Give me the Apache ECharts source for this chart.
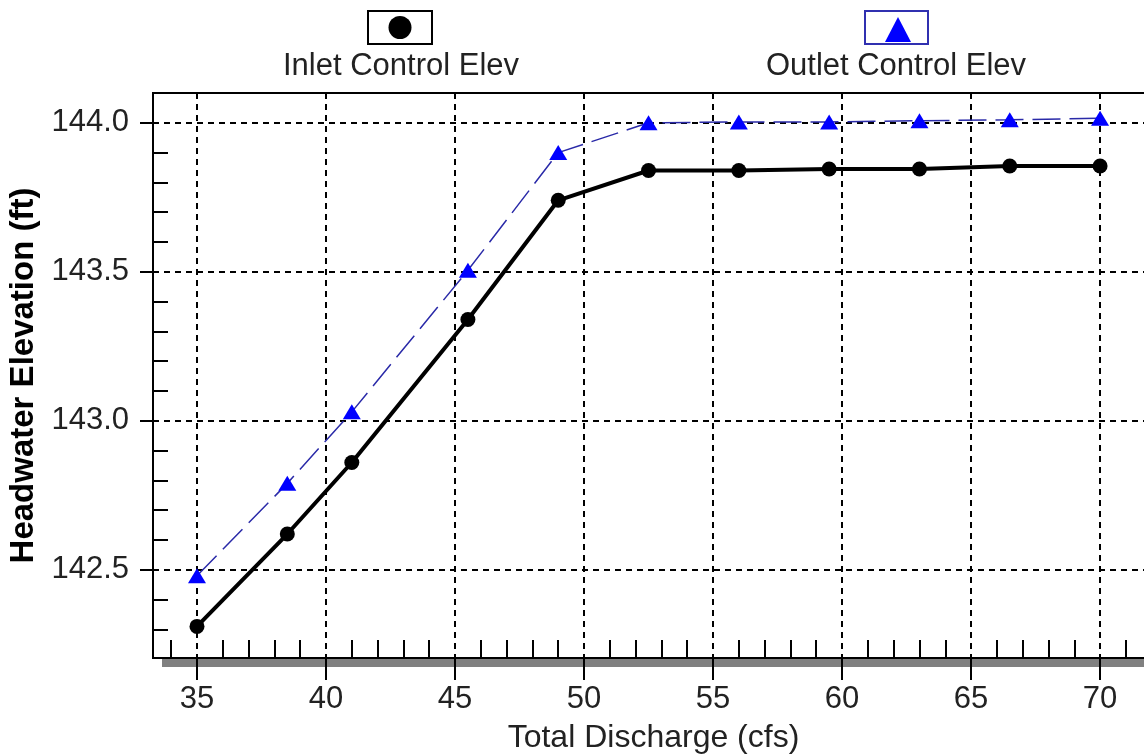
<!DOCTYPE html>
<html>
<head>
<meta charset="utf-8">
<script src="https://cdn.jsdelivr.net/npm/echarts@6/dist/echarts.min.js"></script>
<style>
  html, body { margin: 0; padding: 0; background: #fff; }
  #main { width: 1144px; height: 756px; }
</style>
</head>
<body>
<div id="main"></div>
<script>
// discharge (cfs) and headwater elevations (ft)
var discharge = [35, 38.5, 41, 45.5, 49, 52.5, 56, 59.5, 63, 66.5, 70]
var inletElev = [142.31, 142.62, 142.86, 143.34, 143.74, 143.84, 143.84, 143.845, 143.845, 143.855, 143.855]
var outletElev = [142.48, 142.79, 143.03, 143.505, 143.90, 144.0, 144.003, 144.003, 144.007, 144.01, 144.015]
var seriesNames = ['Inlet Control Elev', 'Outlet Control Elev']

var xMajorTicks = [35, 40, 45, 50, 55, 60, 65, 70]
var yMajorTicks = [142.5, 143.0, 143.5, 144.0]

var xMinorTicks = []
for (var i = 34; i <= 72; i++) {
    if (i % 5 !== 0) xMinorTicks.push(i)
}
var yMinorTicks = []
for (var k = 1423; k <= 1441; k++) {
    if (k % 5 !== 0) yMinorTicks.push(k / 10)
}

var FONT = "'Liberation Sans', Arial, sans-serif"
var xMin = 33.295, xMax = 72.09
var yMin = 142.204, yMax = 144.1

function pairs(xs, ys) {
    return xs.map(function (x, i) { return [x, ys[i]] })
}

var gridDash = { color: '#000', width: 2, type: [6, 5] }

var option = {
    backgroundColor: '#fff',
    animation: false,
    grid: {
        left: 153, top: 93, width: 1001, height: 565,
        outerBoundsMode: 'none', containLabel: false,
        show: true, borderColor: '#000', borderWidth: 2, backgroundColor: 'transparent'
    },
    xAxis: [{
        type: 'value', position: 'bottom', min: xMin, max: xMax,
        name: 'Total Discharge (cfs)', nameLocation: 'middle', nameGap: 64,
        nameTextStyle: { fontFamily: FONT, fontSize: 32, color: '#222' },
        axisLine: { lineStyle: { color: '#000', width: 2 } },
        axisTick: { show: true, inside: false, length: 22, customValues: xMajorTicks, lineStyle: { color: '#000', width: 2 } },
        axisLabel: { customValues: xMajorTicks, margin: 26, fontFamily: FONT, fontSize: 31, color: '#222' },
        splitLine: { show: true, lineStyle: gridDash }
    }, {
        type: 'value', position: 'bottom', min: xMin, max: xMax,
        axisLine: { show: false },
        axisTick: { show: true, inside: true, length: 18, customValues: xMinorTicks, lineStyle: { color: '#000', width: 2 } },
        axisLabel: { show: false },
        splitLine: { show: false }
    }],
    yAxis: [{
        type: 'value', position: 'left', min: yMin, max: yMax,
        name: 'Headwater Elevation (ft)', nameLocation: 'middle', nameGap: 102,
        nameTextStyle: { fontFamily: FONT, fontSize: 33, fontWeight: 'bold', color: '#000' },
        axisLine: { show: true, lineStyle: { color: '#000', width: 2 } },
        axisTick: { show: true, inside: false, length: 13, customValues: yMajorTicks, lineStyle: { color: '#000', width: 2 } },
        axisLabel: {
            customValues: yMajorTicks, margin: 24, fontFamily: FONT, fontSize: 31, color: '#222',
            formatter: function (v) { return v.toFixed(1) }
        },
        splitLine: { show: true, lineStyle: gridDash }
    }, {
        type: 'value', position: 'left', min: yMin, max: yMax,
        axisLine: { show: false },
        axisTick: { show: true, inside: true, length: 15, customValues: yMinorTicks, lineStyle: { color: '#000', width: 2 } },
        axisLabel: { show: false },
        splitLine: { show: false }
    }],
    series: [{
        name: seriesNames[1],
        type: 'line',
        data: pairs(discharge, outletElev),
        symbol: 'triangle',
        symbolSize: [18, 15],
        itemStyle: { color: '#0000ff' },
        lineStyle: { color: '#2a2aa8', width: 1.5, type: [28, 9] },
        z: 3
    }, {
        name: seriesNames[0],
        type: 'line',
        data: pairs(discharge, inletElev),
        symbol: 'circle',
        symbolSize: 15,
        itemStyle: { color: '#000' },
        lineStyle: { color: '#000', width: 4 },
        z: 4
    }],
    graphic: [
        // shadow under the x axis
        { type: 'rect', z: -10, shape: { x: 162, y: 659, width: 1000, height: 8 }, style: { fill: '#808080' } },
        // legend: inlet
        { type: 'rect', shape: { x: 368, y: 11, width: 64, height: 33 }, style: { fill: '#fff', stroke: '#000', lineWidth: 2 } },
        { type: 'circle', shape: { cx: 400, cy: 27.5, r: 11.5 }, style: { fill: '#000' } },
        { type: 'text', x: 401, y: 66, style: { text: seriesNames[0], font: '31px ' + FONT, fill: '#222', align: 'center', verticalAlign: 'middle' } },
        // legend: outlet
        { type: 'rect', shape: { x: 865, y: 11, width: 63, height: 33 }, style: { fill: '#fff', stroke: '#3030b0', lineWidth: 2 } },
        { type: 'polygon', shape: { points: [[898, 17], [911, 42], [885, 42]] }, style: { fill: '#0000ff' } },
        { type: 'text', x: 896, y: 66, style: { text: seriesNames[1], font: '31px ' + FONT, fill: '#222', align: 'center', verticalAlign: 'middle' } }
    ]
}

var chart = echarts.init(document.getElementById('main'))
chart.setOption(option)
</script>
</body>
</html>
